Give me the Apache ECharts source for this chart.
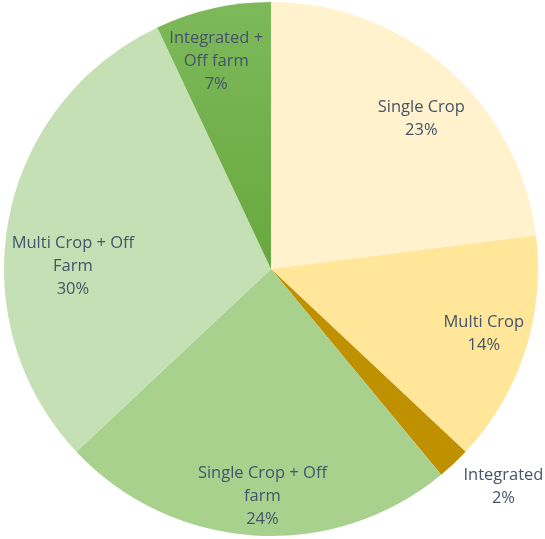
<!DOCTYPE html>
<html>
<head>
<meta charset="utf-8">
<script src="https://cdn.jsdelivr.net/npm/echarts@6/dist/echarts.min.js"></script>
<style>
html,body{margin:0;padding:0;background:#fff;}
#chart{width:545px;height:539px;}
</style>
</head>
<body>
<div id="chart"></div>
<script>
const categories = ["Single Crop", "Multi Crop", "Integrated", "Single Crop + Off farm", "Multi Crop + Off Farm", "Integrated + Off farm"];
const labelTexts = ["Single Crop", "Multi Crop", "Integrated", "Single Crop + Off\nfarm", "Multi Crop + Off\nFarm", "Integrated +\nOff farm"];
const values = [23, 14, 2, 24, 30, 7];

const colors = [
  "#FFF2CC",
  "#FFE699",
  "#BF9000",
  "#A9D18E",
  "#C5E0B4",
  { type: "linear", x: 0, y: 0, x2: 0, y2: 1, colorStops: [{ offset: 0, color: "#7DB95A" }, { offset: 1, color: "#69A83F" }] }
];
const labelOffsets = [[60, -48], [83, 23], [139, 118], [0, 91], [-64, 23], [-25, -74]];

const chart = echarts.init(document.getElementById("chart"), null, { renderer: "canvas" });
chart.setOption({
  animation: false,
  backgroundColor: "#ffffff",
  series: [{
    type: "pie",
    center: [271, 269],
    radius: [0, 267],
    startAngle: 90,
    clockwise: true,
    avoidLabelOverlap: false,
    itemStyle: { borderWidth: 0 },
    label: {
      show: true,
      position: "inside",
      color: "#44546A",
      fontFamily: "Open Sans",
      fontSize: 16.5,
      lineHeight: 23,
      align: "center"
    },
    labelLine: { show: false },
    emphasis: { disabled: true },
    data: categories.map((c, i) => ({
      name: c,
      value: values[i],
      itemStyle: { color: colors[i] },
      label: {
        formatter: labelTexts[i] + "\n" + values[i] + "%",
        offset: labelOffsets[i]
      }
    }))
  }]
});
</script>
</body>
</html>
